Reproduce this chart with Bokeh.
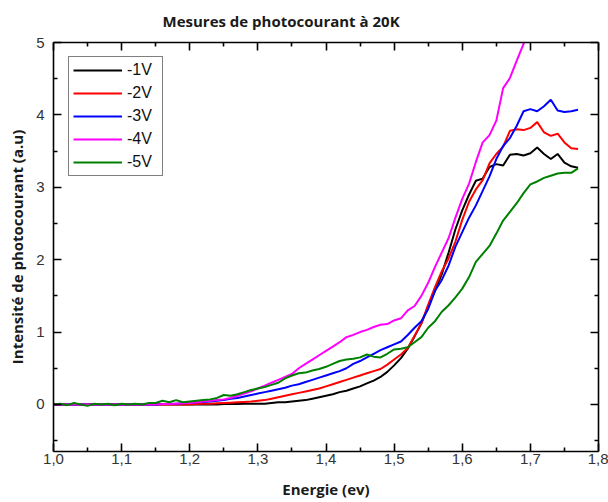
from bokeh.plotting import figure
from bokeh.models import (LinearAxis, FixedTicker, CustomJSTickFormatter, Range1d,
                          Legend, LegendItem)
from bokeh.embed import file_html
from bokeh.resources import INLINE

# ---- data ----
energy = [1.00, 1.01, 1.02, 1.03, 1.04, 1.05, 1.06, 1.07, 1.08, 1.09,
          1.10, 1.11, 1.12, 1.13, 1.14, 1.15, 1.16, 1.17, 1.18, 1.19,
          1.20, 1.21, 1.22, 1.23, 1.24, 1.25, 1.26, 1.27, 1.28, 1.29,
          1.30, 1.31, 1.32, 1.33, 1.34, 1.35, 1.36, 1.37, 1.38, 1.39,
          1.40, 1.41, 1.42, 1.43, 1.44, 1.45, 1.46, 1.47, 1.48, 1.49,
          1.50, 1.51, 1.52, 1.53, 1.54, 1.55, 1.56, 1.57, 1.58, 1.59,
          1.60, 1.61, 1.62, 1.63, 1.64, 1.65, 1.66, 1.67, 1.68, 1.69,
          1.70, 1.71, 1.72, 1.73, 1.74, 1.75, 1.76, 1.77]

v1 = [0.00, 0.00, 0.00, 0.00, 0.00, 0.00, 0.00, 0.00, 0.00, 0.00,
      0.00, 0.00, 0.00, 0.00, 0.00, 0.00, 0.00, 0.00, 0.00, 0.00,
      0.00, 0.00, 0.00, 0.00, 0.00, 0.005, 0.005, 0.005, 0.01, 0.01,
      0.01, 0.01, 0.02, 0.03, 0.03, 0.04, 0.05, 0.06, 0.08, 0.10,
      0.12, 0.14, 0.17, 0.19, 0.22, 0.25, 0.29, 0.33, 0.38, 0.45,
      0.54, 0.64, 0.77, 0.94, 1.12, 1.35, 1.57, 1.80, 2.10, 2.42,
      2.68, 2.90, 3.09, 3.12, 3.28, 3.32, 3.30, 3.45, 3.46, 3.44,
      3.47, 3.55, 3.46, 3.39, 3.46, 3.34, 3.29, 3.27]

v2 = [0.00, 0.00, 0.00, 0.00, 0.00, 0.00, 0.00, 0.00, 0.00, 0.00,
      0.00, 0.00, 0.00, 0.00, 0.00, 0.00, 0.00, 0.00, 0.00, 0.00,
      0.00, 0.005, 0.01, 0.01, 0.015, 0.02, 0.025, 0.03, 0.035, 0.04,
      0.05, 0.06, 0.08, 0.10, 0.12, 0.14, 0.16, 0.18, 0.20, 0.22,
      0.25, 0.28, 0.31, 0.34, 0.37, 0.40, 0.43, 0.46, 0.49, 0.55,
      0.62, 0.69, 0.78, 0.95, 1.12, 1.38, 1.62, 1.84, 2.02, 2.25,
      2.55, 2.80, 2.97, 3.10, 3.33, 3.46, 3.56, 3.78, 3.80, 3.79,
      3.82, 3.90, 3.76, 3.71, 3.74, 3.62, 3.54, 3.53]

v3 = [0.00, 0.00, 0.00, 0.00, 0.00, 0.00, 0.00, 0.00, 0.00, 0.00,
      0.00, 0.00, 0.00, 0.00, 0.00, 0.00, 0.005, 0.005, 0.01, 0.015,
      0.02, 0.03, 0.035, 0.04, 0.05, 0.06, 0.08, 0.09, 0.11, 0.13,
      0.15, 0.17, 0.19, 0.21, 0.23, 0.26, 0.28, 0.31, 0.34, 0.37,
      0.40, 0.43, 0.46, 0.50, 0.56, 0.60, 0.65, 0.70, 0.75, 0.79,
      0.83, 0.87, 0.96, 1.06, 1.15, 1.32, 1.57, 1.72, 1.92, 2.18,
      2.38, 2.58, 2.75, 2.95, 3.15, 3.39, 3.57, 3.68, 3.85, 4.05,
      4.08, 4.05, 4.12, 4.21, 4.06, 4.04, 4.05, 4.07]

v4 = [0.00, 0.00, 0.00, 0.00, 0.00, 0.00, 0.00, 0.00, 0.00, 0.00,
      0.00, 0.00, 0.00, 0.00, 0.00, 0.00, 0.005, 0.005, 0.01, 0.015,
      0.02, 0.03, 0.04, 0.05, 0.06, 0.07, 0.09, 0.12, 0.15, 0.18,
      0.22, 0.26, 0.30, 0.34, 0.38, 0.42, 0.50, 0.56, 0.62, 0.68,
      0.74, 0.80, 0.86, 0.93, 0.96, 1.00, 1.03, 1.07, 1.10, 1.11,
      1.16, 1.19, 1.30, 1.36, 1.50, 1.68, 1.90, 2.10, 2.30, 2.58,
      2.84, 3.05, 3.35, 3.62, 3.72, 3.92, 4.37, 4.51, 4.75, 4.98,
      5.20, 5.40]

v5 = [0.00, 0.01, -0.01, 0.02, 0.00, -0.02, 0.01, 0.00, 0.01, -0.01,
      0.01, 0.00, 0.01, 0.00, 0.02, 0.02, 0.05, 0.03, 0.06, 0.03,
      0.04, 0.05, 0.06, 0.07, 0.09, 0.13, 0.12, 0.14, 0.17, 0.20,
      0.22, 0.24, 0.27, 0.30, 0.36, 0.40, 0.43, 0.44, 0.47, 0.49,
      0.52, 0.56, 0.60, 0.62, 0.63, 0.65, 0.69, 0.66, 0.65, 0.70,
      0.76, 0.77, 0.79, 0.86, 0.93, 1.06, 1.15, 1.28, 1.37, 1.48,
      1.60, 1.76, 1.97, 2.08, 2.19, 2.36, 2.54, 2.66, 2.78, 2.92,
      3.04, 3.08, 3.13, 3.16, 3.19, 3.20, 3.20, 3.26]

series_labels = ["-1V", "-2V", "-3V", "-4V", "-5V"]
series_values = [v1, v2, v3, v4, v5]
series_colors = ["#000000", "#FF0000", "#0000FF", "#FF00FF", "#008000"]

x_major = [1.0, 1.1, 1.2, 1.3, 1.4, 1.5, 1.6, 1.7, 1.8]
x_minor = [1.05, 1.15, 1.25, 1.35, 1.45, 1.55, 1.65, 1.75]
y_major = [0, 1, 2, 3, 4, 5]
y_minor = [-0.5, 0.5, 1.5, 2.5, 3.5, 4.5]

title_text = "Mesures de photocourant à 20K"

TICK_FONT = "Liberation Sans"
BOLD_FONT = "Open Sans"

p = figure(width=608, height=502, output_backend="svg", toolbar_location=None,
           x_range=Range1d(1.0, 1.8), y_range=Range1d(-0.65, 5.0),
           x_axis_location=None, y_axis_location=None,
           min_border_left=53, min_border_right=10, min_border_top=42,
           min_border_bottom=51)
p.outline_line_color = None
p.background_fill_color = "white"
p.border_fill_color = "white"
p.grid.visible = False

p.title.text = title_text
p.title.align = "left"
p.title.offset = 109
p.title.vertical_align = "top"
p.title.text_font = BOLD_FONT
p.title.text_font_size = "15px"
p.title.text_font_style = "bold"
p.title.text_color = "#1a1a1a"
p.title.standoff = 20

fmt = CustomJSTickFormatter(code="return tick.toFixed(1).replace('.', ',');")
blank = CustomJSTickFormatter(code="return '';")


def style_axis(ax, show_labels):
    ax.axis_line_color = "black"
    ax.axis_line_width = 1.6
    ax.major_tick_line_color = "black"
    ax.major_tick_line_width = 1.6
    ax.minor_tick_line_color = "black"
    ax.minor_tick_line_width = 1.6
    ax.major_tick_in = 8
    ax.major_tick_out = 0
    ax.minor_tick_in = 4
    ax.minor_tick_out = 0
    if show_labels:
        ax.major_label_text_font = TICK_FONT
        ax.major_label_text_font_size = "15px"
        ax.major_label_text_color = "#333333"
        ax.axis_label_text_font = BOLD_FONT
        ax.axis_label_text_font_size = "15px"
        ax.axis_label_text_font_style = "bold"
        ax.axis_label_text_color = "#1a1a1a"


xb = LinearAxis(ticker=FixedTicker(ticks=x_major, minor_ticks=x_minor),
                formatter=fmt, axis_label="Energie (ev)")
style_axis(xb, True)
xb.major_label_standoff = 2
xb.axis_label_standoff = 12
p.add_layout(xb, "below")

xt = LinearAxis(ticker=FixedTicker(ticks=x_major, minor_ticks=x_minor),
                formatter=blank)
style_axis(xt, False)
xt.major_label_standoff = 0
p.add_layout(xt, "above")

yl = LinearAxis(ticker=FixedTicker(ticks=y_major, minor_ticks=y_minor),
                axis_label="Intensité de photocourant (a.u)")
style_axis(yl, True)
yl.major_label_standoff = 9
yl.axis_label_standoff = 6
p.add_layout(yl, "left")

yr = LinearAxis(ticker=FixedTicker(ticks=y_major, minor_ticks=y_minor),
                formatter=blank)
style_axis(yr, False)
yr.major_label_standoff = 0
p.add_layout(yr, "right")

items = []
for lab, vals, col in zip(series_labels, series_values, series_colors):
    r = p.line(energy[:len(vals)], vals, line_color=col, line_width=2)
    items.append(LegendItem(label=lab, renderers=[r]))

legend = Legend(items=items, location=(15, 275))
legend.border_line_color = "black"
legend.border_line_width = 1
legend.background_fill_color = "white"
legend.background_fill_alpha = 1
legend.label_text_font = TICK_FONT
legend.label_text_font_size = "16px"
legend.label_text_color = "#111111"
legend.glyph_width = 49
legend.glyph_height = 16
legend.label_height = 16
legend.label_width = 31
legend.label_standoff = 5
legend.spacing = 5
legend.padding = 4
legend.margin = 0
p.add_layout(legend)

open("out.html", "w").write(file_html(p, INLINE))
